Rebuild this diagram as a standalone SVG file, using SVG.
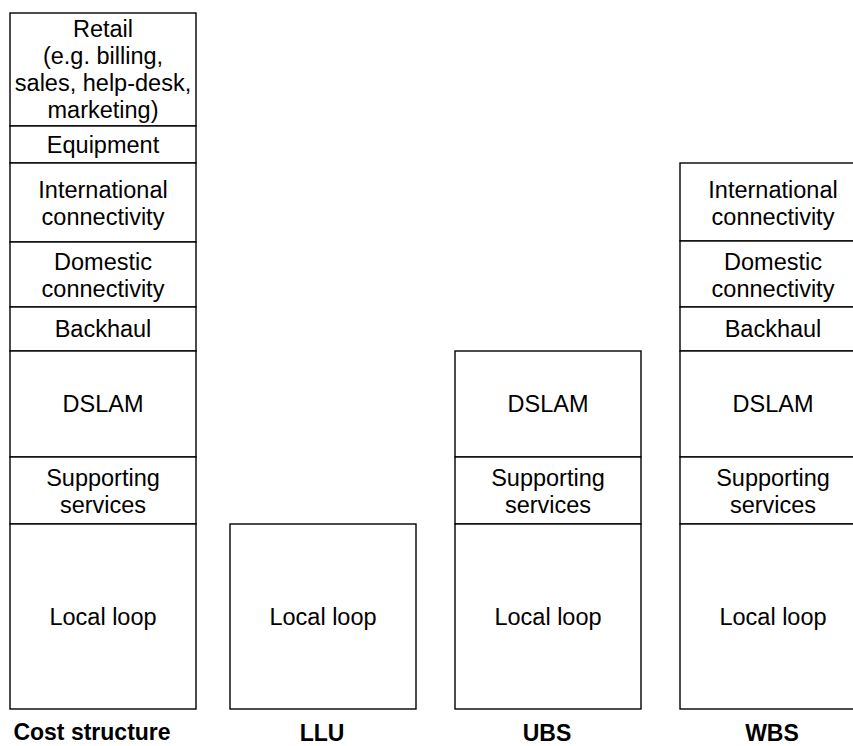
<svg xmlns="http://www.w3.org/2000/svg" width="853" height="746" viewBox="0 0 853 746">
<style>
.b{fill:#fff;stroke:#000;stroke-width:1.4}
.t{font-family:"Liberation Sans",Arial,sans-serif;font-size:23.5px;fill:#000;text-anchor:middle}
.h{font-family:"Liberation Sans",Arial,sans-serif;font-size:23px;font-weight:bold;fill:#000;text-anchor:middle}
</style>
<rect width="853" height="746" fill="#fff"/>
<g id="cost-structure">
<g id="cs-retail"><rect class="b" x="10" y="13" width="186" height="113"/><text class="t" x="103" y="37">Retail</text><text class="t" x="103" y="64">(e.g. billing,</text><text class="t" x="103" y="91">sales, help-desk,</text><text class="t" x="103" y="118">marketing)</text></g>
<g id="cs-equipment"><rect class="b" x="10" y="126" width="186" height="37"/><text class="t" x="103" y="153">Equipment</text></g>
<g id="cs-international"><rect class="b" x="10" y="163" width="186" height="79"/><text class="t" x="103" y="198">International</text><text class="t" x="103" y="225">connectivity</text></g>
<g id="cs-domestic"><rect class="b" x="10" y="242" width="186" height="65"/><text class="t" x="103" y="270">Domestic</text><text class="t" x="103" y="297">connectivity</text></g>
<g id="cs-backhaul"><rect class="b" x="10" y="307" width="186" height="44"/><text class="t" x="103" y="337">Backhaul</text></g>
<g id="cs-dslam"><rect class="b" x="10" y="351" width="186" height="106"/><text class="t" x="103" y="412">DSLAM</text></g>
<g id="cs-supporting"><rect class="b" x="10" y="457" width="186" height="67"/><text class="t" x="103" y="486">Supporting</text><text class="t" x="103" y="513">services</text></g>
<g id="cs-local"><rect class="b" x="10" y="524" width="186" height="185"/><text class="t" x="103" y="625">Local loop</text></g>
<text class="h" x="92" y="740">Cost structure</text>
</g>
<g id="llu">
<g id="llu-local"><rect class="b" x="230" y="524" width="186" height="185"/><text class="t" x="323" y="625">Local loop</text></g>
<text class="h" x="322" y="741">LLU</text>
</g>
<g id="ubs">
<g id="ubs-dslam"><rect class="b" x="455" y="351" width="186" height="106"/><text class="t" x="548" y="412">DSLAM</text></g>
<g id="ubs-supporting"><rect class="b" x="455" y="457" width="186" height="67"/><text class="t" x="548" y="486">Supporting</text><text class="t" x="548" y="513">services</text></g>
<g id="ubs-local"><rect class="b" x="455" y="524" width="186" height="185"/><text class="t" x="548" y="625">Local loop</text></g>
<text class="h" x="547" y="741">UBS</text>
</g>
<g id="wbs">
<g id="wbs-international"><rect class="b" x="680" y="163" width="186" height="78"/><text class="t" x="773" y="198">International</text><text class="t" x="773" y="225">connectivity</text></g>
<g id="wbs-domestic"><rect class="b" x="680" y="241" width="186" height="66"/><text class="t" x="773" y="270">Domestic</text><text class="t" x="773" y="297">connectivity</text></g>
<g id="wbs-backhaul"><rect class="b" x="680" y="307" width="186" height="44"/><text class="t" x="773" y="337">Backhaul</text></g>
<g id="wbs-dslam"><rect class="b" x="680" y="351" width="186" height="106"/><text class="t" x="773" y="412">DSLAM</text></g>
<g id="wbs-supporting"><rect class="b" x="680" y="457" width="186" height="67"/><text class="t" x="773" y="486">Supporting</text><text class="t" x="773" y="513">services</text></g>
<g id="wbs-local"><rect class="b" x="680" y="524" width="186" height="185"/><text class="t" x="773" y="625">Local loop</text></g>
<text class="h" x="772" y="741">WBS</text>
</g>
<g id="connectors"/>
</svg>
